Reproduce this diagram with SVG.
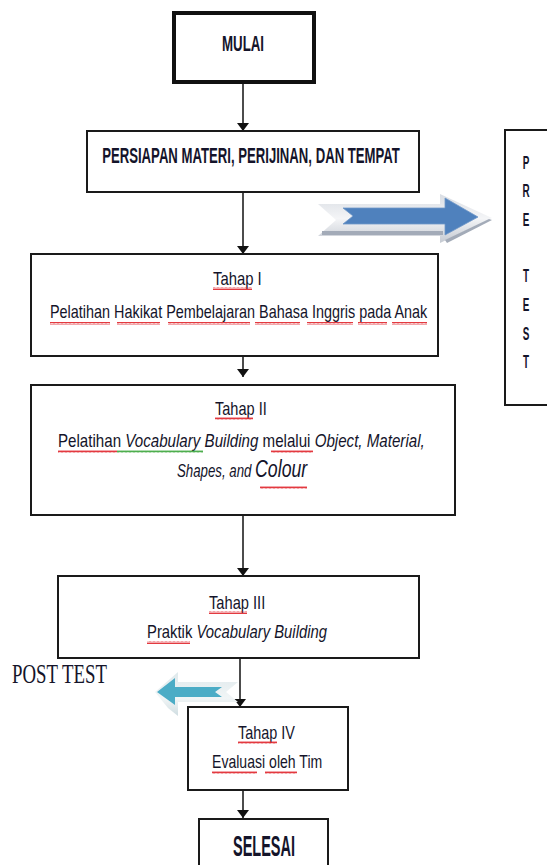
<svg xmlns="http://www.w3.org/2000/svg" width="547" height="865" viewBox="0 0 547 865">
<style>
.box{fill:#fff;stroke:#1a1a1a;stroke-width:2}
.t{font-family:"Liberation Sans",Arial,sans-serif;fill:#14142a}
.b{font-weight:bold}
.i{font-style:italic}
.c{stroke:#111;stroke-width:1.5;fill:none}
</style>
<defs>
<marker id="ah" markerWidth="8" markerHeight="12" refX="8" refY="6" orient="auto" markerUnits="userSpaceOnUse" viewBox="0 0 8 12">
<path d="M0,0 L8,6 L0,12 Z" fill="#111"/>
</marker>
<pattern id="sq" patternUnits="userSpaceOnUse" width="4" height="3">
<path d="M0,2.5 L1,0.5 L2,2.5 L3,0.5 L4,2.5" fill="none" stroke="#e0242a" stroke-width="0.9"/>
</pattern>
<pattern id="sqg" patternUnits="userSpaceOnUse" width="4" height="3">
<path d="M0,2.5 L1,0.5 L2,2.5 L3,0.5 L4,2.5" fill="none" stroke="#3aa53a" stroke-width="0.9"/>
</pattern>
<linearGradient id="pale" x1="0" y1="0" x2="0" y2="1">
<stop offset="0" stop-color="#d9dde3"/>
<stop offset="0.5" stop-color="#f4f5f7"/>
<stop offset="1" stop-color="#c4c9d1"/>
</linearGradient>
<linearGradient id="paleC" x1="0" y1="0" x2="0" y2="1">
<stop offset="0" stop-color="#dfe9ec"/>
<stop offset="0.6" stop-color="#f1f5f6"/>
<stop offset="1" stop-color="#cfdde1"/>
</linearGradient>
</defs>

<g id="connectors">
<line class="c" x1="243" y1="83" x2="243" y2="131" marker-end="url(#ah)"/>
<line class="c" x1="243" y1="192" x2="243" y2="254" marker-end="url(#ah)"/>
<line class="c" x1="243" y1="346" x2="243" y2="377" marker-end="url(#ah)"/>
<line class="c" x1="243" y1="515" x2="243" y2="576" marker-end="url(#ah)"/>
<line class="c" x1="240" y1="658" x2="240" y2="707" marker-end="url(#ah)"/>
<line class="c" x1="243" y1="790" x2="243" y2="818" marker-end="url(#ah)"/>
</g>

<g id="blue-arrow">
<polygon points="318,204 440,204 440,194 492,218 440,243 440,236 318,236 336,220" fill="url(#pale)"/>
<polygon points="322,231 443,231 443,235 322,235" fill="#a3abb8"/>
<polygon points="445,240 489,219 492,220 447,243" fill="#a3abb8"/>
<polygon points="343,208 445,208 445,198 478,217 445,235 445,224 343,224 353,216" fill="#4f81bd" stroke="#6f97c8" stroke-width="0.8"/>
</g>

<g id="cyan-arrow">
<polygon points="155,692 178,672 178,682 238,682 226,692 238,702 178,702 178,716 168,708" fill="url(#paleC)"/>
<polygon points="157,692 175,678 175,687 222,687 215,692 222,697 175,697 175,705" fill="#4bacc6"/>
</g>

<g id="mulai">
<rect x="174" y="13" width="140" height="69" fill="#fff" stroke="#111" stroke-width="4"/>
<text class="t b" transform="translate(243,51) scale(0.6,1)" font-size="22" text-anchor="middle" textLength="70" lengthAdjust="spacingAndGlyphs">MULAI</text>
</g>

<g id="persiapan">
<rect class="box" x="87" y="131" width="332" height="61"/>
<text class="t b" transform="translate(251,163) scale(0.577,1)" font-size="22" text-anchor="middle" textLength="516" lengthAdjust="spacingAndGlyphs">PERSIAPAN  MATERI, PERIJINAN,  DAN TEMPAT</text>
</g>

<g id="pretest">
<rect class="box" x="505" y="130" width="60" height="275"/>
<text class="t b" transform="translate(526,0) scale(0.55,1)" font-size="18" text-anchor="middle"><tspan x="0" y="169">P</tspan><tspan x="0" y="197">R</tspan><tspan x="0" y="226">E</tspan><tspan x="0" y="282">T</tspan><tspan x="0" y="311">E</tspan><tspan x="0" y="340">S</tspan><tspan x="0" y="368">T</tspan></text>
</g>

<g id="tahap1">
<rect class="box" x="31" y="254" width="407" height="102"/>
<text class="t" transform="translate(213,285) scale(0.75,1)" font-size="18" textLength="65" lengthAdjust="spacingAndGlyphs">Tahap  I</text>
<text class="t" transform="translate(50,318) scale(0.7,1)" font-size="19" textLength="539" lengthAdjust="spacingAndGlyphs">Pelatihan Hakikat  Pembelajaran Bahasa  Inggris pada Anak</text>
<g fill="url(#sq)">
<rect x="213" y="287" width="39" height="3"/>
<rect x="50" y="322" width="60" height="3"/>
<rect x="117" y="322" width="43" height="3"/>
<rect x="168" y="322" width="82" height="3"/>
<rect x="255" y="322" width="45" height="3"/>
<rect x="307" y="322" width="46" height="3"/>
<rect x="358" y="322" width="29" height="3"/>
<rect x="392" y="322" width="35" height="3"/>
</g>
</g>

<g id="tahap2">
<rect class="box" x="31" y="385" width="424" height="130"/>
<text class="t" transform="translate(215,415) scale(0.75,1)" font-size="18" textLength="69" lengthAdjust="spacingAndGlyphs">Tahap  II</text>
<text class="t" transform="translate(58,447) scale(0.75,1)" font-size="18" textLength="489" lengthAdjust="spacingAndGlyphs">Pelatihan  <tspan class="i">Vocabulary Building</tspan> melalui <tspan class="i">Object, Material,</tspan></text>
<text class="t i" transform="translate(177,477) scale(0.7,1)" font-size="18" textLength="186" lengthAdjust="spacingAndGlyphs">Shapes, and <tspan font-size="24">Colour</tspan></text>
<g fill="url(#sq)">
<rect x="215" y="417" width="38" height="3"/>
<rect x="58" y="450" width="59" height="3"/>
<rect x="271" y="450" width="42" height="3"/>
<rect x="260" y="486" width="47" height="3"/>
</g>
<rect x="117" y="450" width="86" height="3" fill="url(#sqg)"/>
</g>

<g id="tahap3">
<rect class="box" x="58" y="576" width="361" height="82"/>
<text class="t" transform="translate(209,609) scale(0.75,1)" font-size="18" textLength="75" lengthAdjust="spacingAndGlyphs">Tahap  III</text>
<text class="t" transform="translate(147,638) scale(0.75,1)" font-size="18" textLength="240" lengthAdjust="spacingAndGlyphs">Praktik <tspan class="i">Vocabulary Building</tspan></text>
<g fill="url(#sq)">
<rect x="209" y="611" width="38" height="3"/>
<rect x="147" y="641" width="43" height="3"/>
</g>
</g>

<g id="posttest">
<text transform="translate(12,683) scale(0.668,1)" font-family="'Liberation Serif','Times New Roman',serif" font-size="28" fill="#14142a" textLength="142" lengthAdjust="spacingAndGlyphs">POST TEST</text>
</g>

<g id="tahap4">
<rect class="box" x="188" y="707" width="160" height="83"/>
<text class="t" transform="translate(238,739) scale(0.75,1)" font-size="18" textLength="76" lengthAdjust="spacingAndGlyphs">Tahap  IV</text>
<text class="t" transform="translate(212,768) scale(0.75,1)" font-size="18" textLength="147" lengthAdjust="spacingAndGlyphs">Evaluasi  oleh Tim</text>
<g fill="url(#sq)">
<rect x="238" y="741" width="39" height="3"/>
<rect x="212" y="771" width="45" height="3"/>
<rect x="265" y="771" width="32" height="3"/>
</g>
</g>

<g id="selesai">
<rect class="box" x="199" y="819" width="129" height="60"/>
<text class="t b" transform="translate(264,856) scale(0.484,1)" font-size="30" text-anchor="middle" textLength="128" lengthAdjust="spacingAndGlyphs">SELESAI</text>
</g>
</svg>
